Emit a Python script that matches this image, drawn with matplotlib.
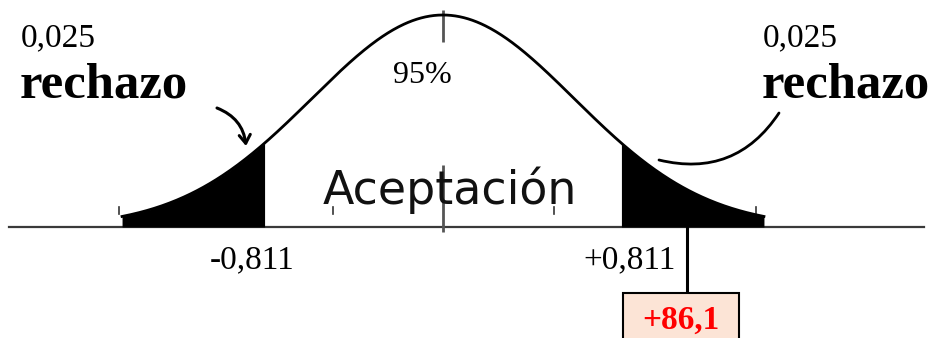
import matplotlib.pyplot as plt
import numpy as np
from matplotlib.patches import FancyArrowPatch, Rectangle

# chart values (schematic standard-normal picture)
crit_z = [-1.36, 1.36]           # position of the critical values on the curve
crit_labels = ['-0,811', '+0,811']
tail_end = 2.45                  # where the drawn tails stop
alpha_label = '0,025'
reject_label = 'rechazo'
conf_label = '95%'
accept_label = 'Aceptación'
stat_z = 1.86                    # where the test statistic is pointed at
stat_label = '+86,1'
minor_ticks = [-2.47, -0.84, 0.85, 2.39]

# picture pixel -> data helper (figure is 932x338 px at dpi 100)
W, H = 932, 338
X0, SX = 443, 131.0
Y0, SY = 227, 531.4


def px(x, y):
    return (x - X0) / SX, (Y0 - y) / SY


SERIF = 'Liberation Serif'

fig = plt.figure(figsize=(W / 100, H / 100), dpi=100)
ax = fig.add_axes([0, 0, 1, 1])
ax.set_xlim((0 - X0) / SX, (W - X0) / SX)
ax.set_ylim((Y0 - H) / SY, Y0 / SY)
ax.axis('off')

z = np.linspace(-tail_end, tail_end, 600)
pdf = np.exp(-z ** 2 / 2) / np.sqrt(2 * np.pi)

# base line
x_a, _ = px(9, 0)
x_b, _ = px(924, 0)
ax.plot([x_a, x_b], [0, 0], color='#3a3a3a', lw=1.6, zorder=1)

# curve + tails
ax.plot(z, pdf, color='black', lw=2.0, zorder=3)
left = z <= crit_z[0]
right = z >= crit_z[1]
ax.fill_between(z[left], 0, pdf[left], color='black', lw=0, zorder=2)
ax.fill_between(z[right], 0, pdf[right], color='black', lw=0, zorder=2)

# small tick marks on the base line
for t in minor_ticks:
    ax.plot([t, t], [px(0, 214)[1], px(0, 207)[1]], color='#333333', lw=1.2, zorder=2)

# broken centre line
ax.vlines(0, px(0, 42)[1], px(0, 10)[1], color='#555555', lw=2.0, zorder=1)
ax.vlines(0, px(0, 232)[1], px(0, 165)[1], color='#555555', lw=2.0, zorder=1)

# labels
ax.text(*px(21, 46), alpha_label, family=SERIF, fontsize=24, ha='left', va='baseline')
ax.text(*px(20, 97), reject_label, family=SERIF, fontsize=36.5, fontweight='bold',
        ha='left', va='baseline')
ax.text(*px(763, 46), alpha_label, family=SERIF, fontsize=24, ha='left', va='baseline')
ax.text(*px(762, 97), reject_label, family=SERIF, fontsize=36.5, fontweight='bold',
        ha='left', va='baseline')
ax.text(*px(422, 83), conf_label, family=SERIF, fontsize=23, ha='center', va='baseline')
ax.text(*px(450, 204), accept_label, family='DejaVu Sans', fontsize=33, color='#111111',
        ha='center', va='baseline', zorder=4)

ax.text(px(252, 0)[0], px(0, 268)[1], crit_labels[0], family=SERIF, fontsize=24,
        ha='center', va='baseline')
ax.text(px(630, 0)[0], px(0, 268)[1], crit_labels[1], family=SERIF, fontsize=24,
        ha='center', va='baseline')

# arrows
arr = FancyArrowPatch(px(217, 108), px(246, 146), connectionstyle='arc3,rad=-0.3',
                      arrowstyle='->,head_length=6,head_width=4', lw=2.2,
                      color='black', shrinkA=0, shrinkB=0, zorder=4)
ax.add_patch(arr)
arc = FancyArrowPatch(px(779, 113), px(659, 160), connectionstyle='arc3,rad=-0.35',
                      arrowstyle='-', lw=2.0, color='black',
                      shrinkA=0, shrinkB=0, zorder=4)
ax.add_patch(arc)

# statistic pointer and box
ax.plot([stat_z, stat_z], [0, px(0, 293)[1]], color='black', lw=2.2, zorder=3)
bx0, by0 = px(623, 345)
bx1, by1 = px(739, 293)
ax.add_patch(Rectangle((bx0, by0), bx1 - bx0, by1 - by0, facecolor='#fce4d6',
                       edgecolor='black', lw=1.5, zorder=3))
ax.text(px(681, 0)[0], px(0, 329)[1], stat_label, family=SERIF, fontsize=24,
        fontweight='bold', color='#ff0000', ha='center', va='baseline', zorder=4)

fig.savefig('out.png', dpi=100, facecolor='white')
